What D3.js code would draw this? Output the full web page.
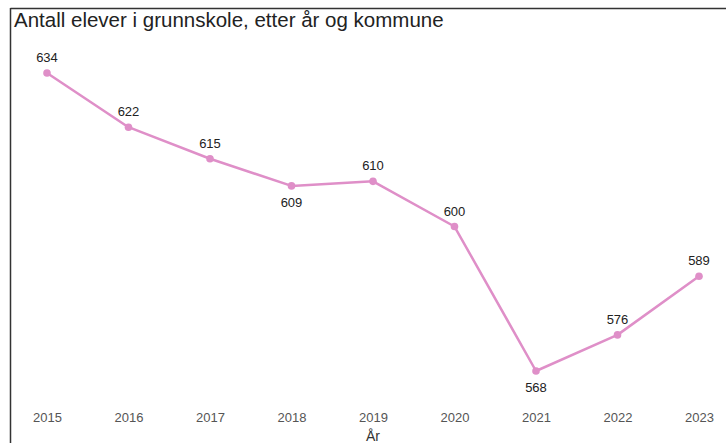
<!DOCTYPE html>
<html>
<head>
<meta charset="utf-8">
<script src="https://cdn.jsdelivr.net/npm/d3@7"></script>
<style>
  html, body { margin: 0; padding: 0; background: #fff; }
  svg { display: block; }
</style>
</head>
<body>
<svg id="chart" width="726" height="443"></svg>
<script>
const title = "Antall elever i grunnskole, etter år og kommune";
const xAxisTitle = "År";
const years = ["2015", "2016", "2017", "2018", "2019", "2020", "2021", "2022", "2023"];
const values = [634, 622, 615, 609, 610, 600, 568, 576, 589];
const labelBelow = [false, false, false, true, false, false, true, false, false];

const svg = d3.select("#chart");
const W = 726, H = 443;
const lineColor = "#df8fc8";

// frame (top and left edges)
svg.append("line").attr("x1", 10.5).attr("x2", W).attr("y1", 8.5).attr("y2", 8.5)
  .attr("stroke", "#333").attr("stroke-width", 1.5);
svg.append("line").attr("x1", 10.5).attr("x2", 10.5).attr("y1", 8).attr("y2", H)
  .attr("stroke", "#333").attr("stroke-width", 1.5);

svg.append("text")
  .attr("x", 14).attr("y", 27)
  .attr("font-family", "Arial, 'Liberation Sans', sans-serif")
  .attr("font-size", 20.5)
  .attr("fill", "#222")
  .text(title);

const x = d3.scalePoint().domain(years).range([47, 699]);
const y = d3.scaleLinear().domain([568, 634]).range([371, 73]);

const data = years.map((yr, i) => ({ yr, v: values[i], below: labelBelow[i] }));

const narrow = "'Liberation Sans Narrow', 'Arial Narrow', Arial, sans-serif";

// x axis
const xAxis = d3.axisBottom(x).tickSize(0).tickPadding(0);
const gx = svg.append("g").attr("transform", "translate(0,413)").call(xAxis);
gx.select(".domain").remove();
gx.selectAll("text")
  .attr("font-family", narrow)
  .attr("font-size", 13)
  .attr("fill", "#555");

svg.append("text")
  .attr("x", 373).attr("y", 441)
  .attr("text-anchor", "middle")
  .attr("font-family", narrow)
  .attr("font-size", 14)
  .attr("fill", "#333")
  .text(xAxisTitle);

const line = d3.line().x(d => x(d.yr)).y(d => y(d.v));
svg.append("path")
  .datum(data)
  .attr("d", line)
  .attr("fill", "none")
  .attr("stroke", lineColor)
  .attr("stroke-width", 2.5)
  .attr("stroke-linejoin", "round");

svg.selectAll("circle.pt")
  .data(data)
  .join("circle")
  .attr("class", "pt")
  .attr("cx", d => x(d.yr))
  .attr("cy", d => y(d.v))
  .attr("r", 3.8)
  .attr("fill", lineColor);

svg.selectAll("text.lbl")
  .data(data)
  .join("text")
  .attr("class", "lbl")
  .attr("x", d => x(d.yr))
  .attr("y", d => y(d.v) + (d.below ? 21 : -11))
  .attr("text-anchor", "middle")
  .attr("font-family", narrow)
  .attr("font-size", 13)
  .attr("fill", "#222")
  .text(d => d.v);
</script>
</body>
</html>
